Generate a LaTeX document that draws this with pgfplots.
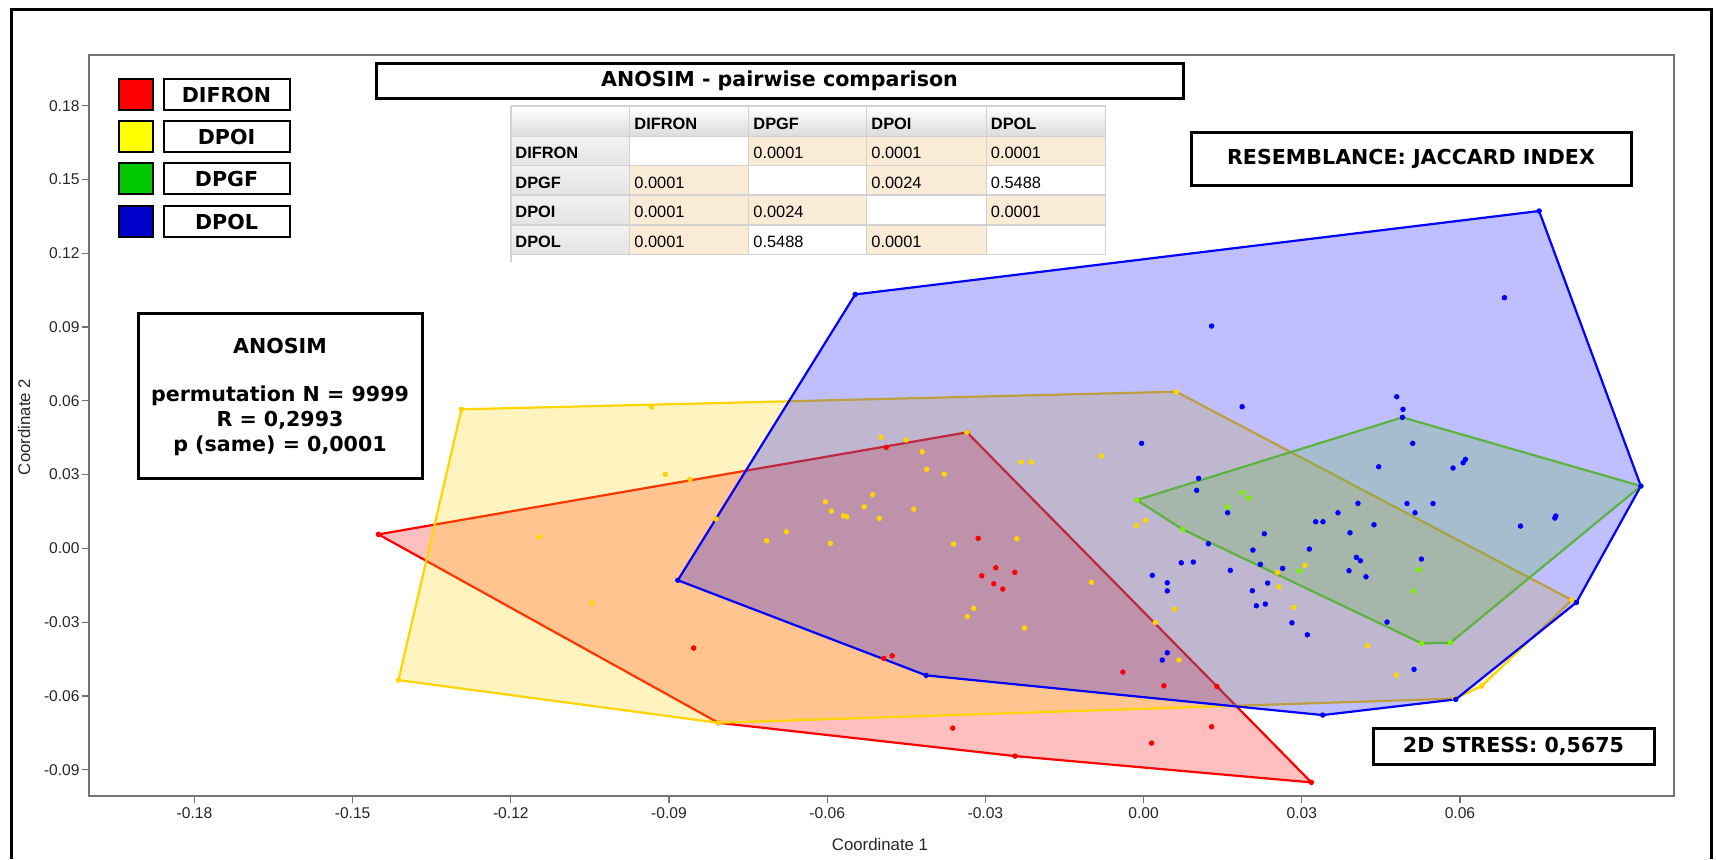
\documentclass[border=0pt]{standalone}
\usepackage{pgfplots}
\pgfplotsset{compat=1.18}
\usepackage{fontspec}
\setmainfont{Liberation Sans}
\newfontfamily\boxfont{DejaVu Sans}
\definecolor{cRed}{RGB}{255,0,0}
\definecolor{cYel}{RGB}{255,212,0}
\definecolor{cLime}{RGB}{125,240,0}
\definecolor{cBlue}{RGB}{0,0,255}
\definecolor{cTan}{RGB}{250,235,215}
\definecolor{cGrid}{RGB}{210,210,210}
\begin{document}
\begin{tikzpicture}
\useasboundingbox (0,0) rectangle (858pt,-429.5pt);
\begin{axis}[
  anchor=south west, at={(44.5pt,-398pt)},
  width=792.5pt, height=370.5pt, scale only axis,
  xmin=-0.2, xmax=0.1006, ymin=-0.1007, ymax=0.2006,
  axis line style={draw=black!55, line width=1pt},
  tick align=outside, major tick length=3.5pt,
  xtick pos=bottom, ytick pos=left,
  tick style={draw=black!55, line width=0.6pt},
  xtick={-0.18,-0.15,-0.12,-0.09,-0.06,-0.03,0,0.03,0.06},
  xticklabels={-0.18,-0.15,-0.12,-0.09,-0.06,-0.03,0.00,0.03,0.06},
  ytick={-0.09,-0.06,-0.03,0,0.03,0.06,0.09,0.12,0.15,0.18},
  yticklabels={-0.09,-0.06,-0.03,0.00,0.03,0.06,0.09,0.12,0.15,0.18},
  ticklabel style={font=\fontsize{7.8}{9}\selectfont, text=black!85},
  xticklabel style={inner sep=2pt},
  yticklabel style={inner sep=1pt},
  mark size=1.15pt,
]
% hulls
\addplot[draw=cRed, line width=1.1pt, fill=cRed, fill opacity=0.25, line join=round] coordinates {
(-0.14511,0.00569) (-0.03349,0.04717) (0.03182,-0.09516) (-0.02435,-0.08447) (-0.08064,-0.07092)} -- cycle;
\addplot[draw=cYel, line width=1.1pt, fill=cYel, fill opacity=0.25, line join=round] coordinates {
(-0.12935,0.05653) (0.00620,0.06368) (0.08121,-0.02102) (0.06414,-0.05600) (0.05901,-0.06108) (-0.08064,-0.07092) (-0.14131,-0.05356)} -- cycle;
\addplot[draw=cLime, line width=1.1pt, fill=cLime, fill opacity=0.25, line join=round] coordinates {
(-0.00127,0.01964) (0.04909,0.05327) (0.09431,0.02534) (0.05818,-0.03839) (0.05275,-0.03863) (0.00740,0.00773)} -- cycle;
\addplot[draw=cBlue, line width=1.1pt, fill=cBlue, fill opacity=0.25, line join=round] coordinates {
(-0.05469,0.10325) (0.07501,0.13717) (0.09431,0.02534) (0.08210,-0.02196) (0.05920,-0.06141) (0.03397,-0.06779) (-0.04123,-0.05165) (-0.08833,-0.01297)} -- cycle;
% points
\addplot[only marks, mark=*, color=cRed] coordinates {
(-0.14511,0.00569) (-0.03349,0.04717) (0.03182,-0.09516) (-0.02435,-0.08447) (-0.08064,-0.07092)
(-0.04882,0.04107) (-0.03137,0.00407) (-0.02803,-0.00789) (-0.03068,-0.01114) (-0.02841,-0.01440) (-0.02670,-0.01655) (-0.02442,-0.00976) (-0.08533,-0.04054) (-0.04928,-0.04473) (-0.04768,-0.04368) (-0.03619,-0.07308) (-0.00393,-0.05030) (0.00385,-0.05588) (0.01391,-0.05612) (0.01290,-0.07255) (0.00152,-0.07918)};
\addplot[only marks, mark=*, color=cYel] coordinates {
(-0.12935,0.05653) (0.00620,0.06368) (0.08121,-0.02102) (0.06414,-0.05600) (0.05901,-0.06108) (-0.08064,-0.07092) (-0.14131,-0.05356)
(-0.09330,0.05746) (-0.04977,0.04514) (-0.04503,0.04404) (-0.04199,0.03928) (-0.04112,0.03213) (-0.03782,0.03022) (-0.02321,0.03510) (-0.02131,0.03510) (-0.09070,0.03009) (-0.08602,0.02806) (-0.08108,0.01192) (-0.06034,0.01895) (-0.05920,0.01517) (-0.05693,0.01326) (-0.05630,0.01285) (-0.05300,0.01692) (-0.05137,0.02180) (-0.05010,0.01220) (-0.04359,0.01598) (-0.07148,0.00309) (-0.06774,0.00675) (-0.05939,0.00203) (-0.03605,0.00175) (-0.02404,0.00390) (-0.03220,-0.02440) (-0.03345,-0.02774) (-0.02258,-0.03241) (-0.00803,0.03754) (-0.00133,0.00935) (0.00038,0.01139) (-0.00992,-0.01379) (0.03061,-0.00691) (0.02537,-0.00976) (0.02567,-0.01562) (0.00588,-0.02469) (0.00222,-0.03009) (0.02852,-0.02399) (0.00670,-0.04542) (0.04245,-0.03961) (0.04795,-0.05152) (-0.11461,0.00460) (-0.10461,-0.02224) (-0.03353,0.04717)};
\addplot[only marks, mark=*, color=cLime] coordinates {
(-0.00127,0.01964) (0.04909,0.05327) (0.09431,0.02534) (0.05818,-0.03839) (0.05275,-0.03863) (0.00740,0.00773) (0.01873,0.02261) (0.01992,0.02046) (0.01594,0.01680) (0.02954,-0.00911) (0.05218,-0.00870) (0.05118,-0.01736)};
\addplot[only marks, mark=*, color=cBlue] coordinates {
(-0.05469,0.10325) (0.07501,0.13717) (0.09431,0.02534) (0.08210,-0.02196) (0.05920,-0.06141) (0.03397,-0.06779) (-0.04123,-0.05165) (-0.08833,-0.01297)
(0.04801,0.06165) (0.04920,0.05653) (0.04909,0.05327) (0.01869,0.05758) (-0.00038,0.04270) (0.05104,0.04270) (0.04459,0.03318) (0.01044,0.02847) (0.01006,0.02359) (0.01594,0.01448) (0.04066,0.01830) (0.04996,0.01822) (0.05489,0.01822) (0.05148,0.01448) (0.03687,0.01448) (0.03264,0.01082) (0.03402,0.01082) (0.04370,0.00960) (0.03915,0.00634) (0.02290,0.00594) (0.01228,0.00187) (0.02074,-0.00069) (0.03144,-0.00028) (0.04036,-0.00366) (0.04112,-0.00504) (0.05269,-0.00435) (0.00715,-0.00586) (0.00943,-0.00557) (0.02214,-0.00651) (0.02638,-0.00813) (0.01645,-0.00895) (0.03896,-0.00911) (0.04218,-0.01155) (0.00165,-0.01098) (0.00450,-0.01399) (0.00450,-0.01728) (0.02353,-0.01411) (0.02063,-0.01724) (0.02139,-0.02334) (0.02309,-0.02265) (0.02814,-0.03026) (0.03106,-0.03514) (0.04617,-0.02997) (0.00450,-0.04246) (0.00355,-0.04542) (0.05129,-0.04921) (0.01290,0.09040) (0.06844,0.10191) (0.05869,0.03266) (0.06059,0.03481) (0.06104,0.03619) (0.07148,0.00907) (0.07818,0.01314) (0.07799,0.01232)};
\end{axis}
\begin{scope}[x=0.5pt,y=-0.5pt]
% outer frame
\draw[line width=1.5pt] (11,859) -- (11,9) -- (1711,9) -- (1711,859);
% legend
\tikzset{bx/.style={draw=black, line width=1pt}}
\filldraw[bx, fill=cRed] (119,79) rectangle (153,110);
\filldraw[bx, fill={rgb,255:red,255;green,255;blue,0}] (119,120.5) rectangle (153,151.5);
\filldraw[bx, fill={rgb,255:red,0;green,200;blue,0}] (119,162.7) rectangle (153,194);
\filldraw[bx, fill={rgb,255:red,0;green,0;blue,205}] (119,205.7) rectangle (153,237);
\draw[bx] (163.5,79) rectangle (289.5,110);
\draw[bx] (163.5,120.5) rectangle (289.5,151.5);
\draw[bx] (163.5,162.7) rectangle (289.5,194);
\draw[bx] (163.5,205.7) rectangle (289.5,237);
\begin{scope}[every node/.style={font=\boxfont\bfseries\fontsize{10.3}{12}\selectfont}]
\node at (226.5,95) {DIFRON};
\node at (226.5,136.5) {DPOI};
\node at (226.5,178.5) {DPGF};
\node at (226.5,221.5) {DPOL};
% title box
\draw[line width=1.5pt] (376.5,63) rectangle (1183,98);
\node at (779.5,80.5) {ANOSIM - pairwise comparison};
% resemblance
\draw[line width=1.5pt] (1191.5,132.5) rectangle (1631,185);
\node at (1411,159) {RESEMBLANCE: JACCARD INDEX};
% anosim box
\filldraw[fill=white, line width=1.5pt] (138,313) rectangle (422.6,478.3);
\node at (280,346) {ANOSIM};
\node at (280,395.5) {permutation N = 9999};
\node at (280,420) {R = 0,2993};
\node at (280,445.5) {p (same) = 0,0001};
% stress box
\filldraw[fill=white, line width=1.5pt] (1373,728.5) rectangle (1654,764);
\node at (1513.5,746.5) {2D STRESS: 0,5675};
\end{scope}
% table
\shade[top color=white, bottom color=black!14] (511,106) rectangle (1105.7,136.7);
\foreach \ya/\yb in {136.7/165.7, 165.7/195, 195/225, 225/254.3}
  \shade[top color=black!5, bottom color=black!11] (511,\ya) rectangle (629.7,\yb);
% tan cells
\fill[cTan] (748.8,136.7) rectangle (1105.7,165.7);
\fill[cTan] (629.7,165.7) rectangle (748.8,195);
\fill[cTan] (866.6,165.7) rectangle (986.2,195);
\fill[cTan] (629.7,195) rectangle (866.6,225);
\fill[cTan] (986.2,195) rectangle (1105.7,225);
\fill[cTan] (629.7,225) rectangle (748.8,254.3);
\fill[cTan] (866.6,225) rectangle (986.2,254.3);
\fill[white] (629.7,136.7) rectangle (748.8,165.7);
\fill[white] (748.8,165.7) rectangle (866.6,195);
\fill[white] (986.2,165.7) rectangle (1105.7,195);
\fill[white] (866.6,195) rectangle (986.2,225);
\fill[white] (748.8,225) rectangle (866.6,254.3);
\fill[white] (986.2,225) rectangle (1105.7,254.3);
\begin{scope}[cGrid, line width=0.6pt]
\foreach \xx in {511,629.7,748.8,866.6,986.2,1105.7} \draw (\xx,106) -- (\xx,254.3);
\foreach \yy in {106,136.7,165.7,195,225,254.3} \draw (511,\yy) -- (1105.7,\yy);
\draw (511,254.3) -- (511,262);
\end{scope}
\begin{scope}[every node/.style={anchor=west, font=\fontsize{8.2}{10}\selectfont, inner sep=0pt}]
\foreach \xx/\t in {634/DIFRON, 753/DPGF, 871/DPOI, 990.5/DPOL}
  \node[font=\bfseries\fontsize{8.2}{10}\selectfont] at (\xx,124) {\t};
\foreach \yy/\t in {153/DIFRON, 182.5/DPGF, 212/DPOI, 241.5/DPOL}
  \node[font=\bfseries\fontsize{8.2}{10}\selectfont] at (515,\yy) {\t};
\node at (753,153) {0.0001}; \node at (871,153) {0.0001}; \node at (990.5,153) {0.0001};
\node at (634,182.5) {0.0001}; \node at (871,182.5) {0.0024}; \node at (990.5,182.5) {0.5488};
\node at (634,212) {0.0001}; \node at (753,212) {0.0024}; \node at (990.5,212) {0.0001};
\node at (634,241.5) {0.0001}; \node at (753,241.5) {0.5488}; \node at (871,241.5) {0.0001};
\end{scope}
% axis labels
\node[font=\fontsize{8.4}{10}\selectfont, text=black!85] at (880,844) {Coordinate 1};
\node[rotate=90, font=\fontsize{8.4}{10}\selectfont, text=black!85] at (24,427) {Coordinate 2};
\end{scope}
\end{tikzpicture}
\end{document}
